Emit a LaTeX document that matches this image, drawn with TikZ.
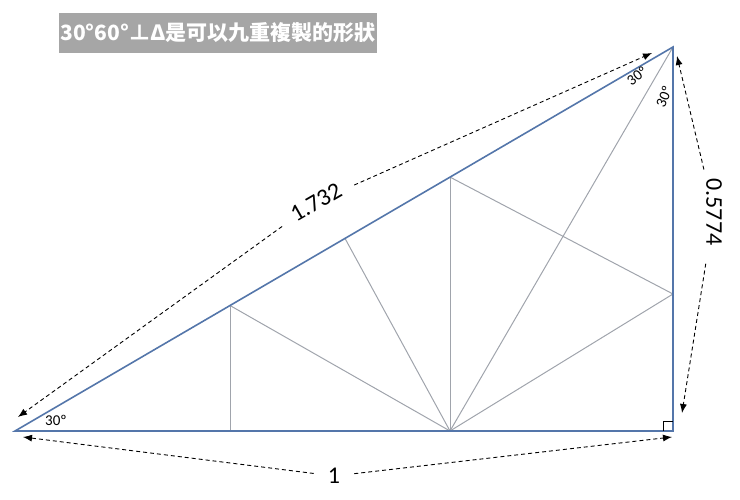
\documentclass[tikz,border=0pt]{standalone}
\usepackage{fontspec}
\setmainfont{Carlito}
\newfontfamily\cjk{Noto Sans CJK TC}
\usetikzlibrary{arrows.meta}
\definecolor{edgeblue}{RGB}{84,118,170}
\definecolor{splitgray}{RGB}{160,164,172}
\definecolor{titlegray}{RGB}{166,166,166}

\begin{document}
\begin{tikzpicture}[x=1pt,y=-1pt,
  outer/.style={edgeblue,line width=1.6pt,line join=miter},
  split/.style={splitgray,line width=1pt},
  dim/.style={black,dash pattern=on 4pt off 3pt,line width=0.9pt,-{Latex[length=9pt,width=7pt]}},
  dimlabel/.style={inner ysep=2pt,font=\fontsize{24}{24}\selectfont},
  anglabel/.style={inner sep=0pt,font=\fontsize{15}{15}\selectfont}]
\useasboundingbox (0,0) rectangle (740,500);
% corners of the triangle
\coordinate (A) at (15,431);
\coordinate (B) at (673,431);
\coordinate (C) at (673,47);
% points of the nine pieces
\coordinate (F) at (230,431);
\coordinate (P) at (230,305.5);
\coordinate (H) at (345,238.4);
\coordinate (M) at (450,431);
\coordinate (Q) at (450,177.1);
\coordinate (R) at (673,294);
% title
\node[fill=titlegray,text=white,inner sep=0pt,minimum width=318pt,minimum height=40pt,
  font=\cjk\bfseries\fontsize{21}{21}\selectfont] (title) at (218,33) {30°60°⊥Δ是可以九重複製的形狀};
% inner lines
\draw[split] (P) -- (F);
\draw[split] (P) -- (M);
\draw[split] (H) -- (M);
\draw[split] (Q) -- (M);
\draw[split] (C) -- (M);
\draw[split] (R) -- (M);
\draw[split] (Q) -- (R);
% outline
\draw[outer] (A) -- (B) -- (C) -- cycle;
\draw[black,line width=1pt] (B) ++(-10,0) -- ++(0,-10) -- ++(10,0);
% angles
\node[anglabel] (angA) at (56,420) {30º};
\node[anglabel,rotate=38] (angC1) at (637,76) {30º};
\node[anglabel,rotate=68] (angC2) at (664,97) {30º};
% dimensions
\coordinate (hypA) at (18,417);
\coordinate (hypC) at (652,53);
\coordinate (vertC) at (677,56);
\coordinate (vertB) at (682,413);
\coordinate (baseA) at (23,437);
\coordinate (baseB) at (672,437);
\node[dimlabel,rotate=30,inner xsep=14pt] (hyplab) at (316,202) {1.732};
\node[dimlabel,rotate=-90,inner xsep=18pt] (vertlab) at (714,212) {0.5774};
\node[dimlabel,inner xsep=14pt] (baselab) at (334,476) {1};
\draw[dim] (hyplab) -- (hypA);
\draw[dim] (hyplab) -- (hypC);
\draw[dim] (vertlab) -- (vertC);
\draw[dim] (vertlab) -- (vertB);
\draw[dim] (baselab) -- (baseA);
\draw[dim] (baselab) -- (baseB);
\end{tikzpicture}
\end{document}
